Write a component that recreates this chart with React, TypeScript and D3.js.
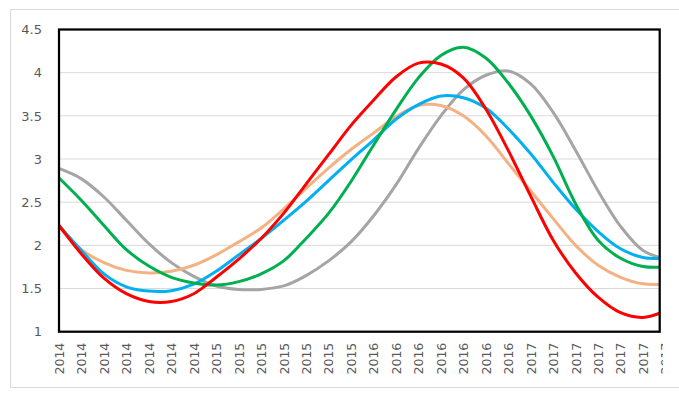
import React, { useRef, useEffect } from 'react';
import * as d3 from 'd3';

// category labels (28 points along the x axis)
const categories = [
  '2014', '2014', '2014', '2014', '2014', '2014', '2014',
  '2015', '2015', '2015', '2015', '2015', '2015', '2015',
  '2016', '2016', '2016', '2016', '2016', '2016', '2016',
  '2017', '2017', '2017', '2017', '2017', '2017', '2017',
];

const redValues = [2.23, 1.90, 1.62, 1.44, 1.35, 1.35, 1.44, 1.63, 1.84, 2.08, 2.37, 2.71, 3.05, 3.39, 3.68, 3.95, 4.11, 4.10, 3.94, 3.58, 3.10, 2.57, 2.06, 1.68, 1.40, 1.22, 1.165, 1.24];
const blueValues = [2.23, 1.94, 1.67, 1.52, 1.47, 1.475, 1.55, 1.70, 1.89, 2.08, 2.29, 2.51, 2.75, 2.99, 3.22, 3.46, 3.63, 3.73, 3.71, 3.59, 3.35, 3.06, 2.73, 2.42, 2.16, 1.96, 1.86, 1.85];
const greenValues = [2.78, 2.52, 2.23, 1.95, 1.76, 1.63, 1.565, 1.54, 1.58, 1.67, 1.82, 2.08, 2.37, 2.74, 3.16, 3.57, 3.94, 4.20, 4.295, 4.17, 3.88, 3.50, 3.03, 2.48, 2.06, 1.85, 1.755, 1.75];
const greyValues = [2.89, 2.77, 2.56, 2.29, 2.02, 1.80, 1.64, 1.53, 1.49, 1.49, 1.53, 1.65, 1.82, 2.04, 2.34, 2.70, 3.12, 3.50, 3.80, 3.97, 4.02, 3.87, 3.54, 3.10, 2.63, 2.22, 1.94, 1.84];
const peachValues = [2.22, 1.95, 1.80, 1.71, 1.68, 1.70, 1.77, 1.89, 2.04, 2.20, 2.42, 2.66, 2.895, 3.11, 3.30, 3.49, 3.62, 3.62, 3.50, 3.27, 2.95, 2.63, 2.31, 2.00, 1.77, 1.63, 1.555, 1.55];

const yTicks = [1, 1.5, 2, 2.5, 3, 3.5, 4, 4.5];

const series = [
  { values: greyValues, color: '#A5A5A5' },
  { values: peachValues, color: '#F4B183' },
  { values: blueValues, color: '#00B0F0' },
  { values: greenValues, color: '#00B050' },
  { values: redValues, color: '#FF0000' },
];

const App = () => {
  const chartRef = useRef<SVGSVGElement>(null);

  useEffect(() => {
    const width = 679;
    const height = 393;
    const left = 59;
    const right = 659.7;
    const top = 29.5;
    const bottom = 331.7;

    const svg = d3.select(chartRef.current);
    svg.selectAll('*').remove();

    svg.append('rect')
      .attr('width', width)
      .attr('height', height)
      .attr('fill', '#ffffff');

    // outer chart frame
    svg.append('rect')
      .attr('x', 10.5)
      .attr('y', 9.5)
      .attr('width', 690)
      .attr('height', 378)
      .attr('fill', '#ffffff')
      .attr('stroke', '#D9D9D9')
      .attr('stroke-width', 1);

    const idx = categories.map((_, i) => i);
    const xScale = d3.scalePoint<number>()
      .domain(idx)
      .range([left, 665.5]);

    const yScale = d3.scaleLinear()
      .domain([1, 4.5])
      .range([bottom, top]);

    const defs = svg.append('defs');
    defs.append('clipPath').attr('id', 'plot-clip')
      .append('rect')
      .attr('x', left).attr('y', 0)
      .attr('width', right - left).attr('height', height);
    defs.append('clipPath').attr('id', 'label-clip')
      .append('rect')
      .attr('x', 0).attr('y', 0)
      .attr('width', 663).attr('height', height);

    // gridlines
    svg.append('g')
      .selectAll('line')
      .data(yTicks)
      .enter()
      .append('line')
      .attr('x1', left)
      .attr('x2', right)
      .attr('y1', d => yScale(d))
      .attr('y2', d => yScale(d))
      .attr('stroke', '#D9D9D9')
      .attr('stroke-width', 1);

    // y axis labels
    const yAxis = d3.axisLeft(yScale).tickValues(yTicks).tickSize(0).tickPadding(17).tickFormat(d => String(d));
    const yg = svg.append('g')
      .attr('transform', `translate(${left}, 0)`)
      .call(yAxis);
    yg.select('.domain').remove();
    yg.selectAll('text')
      .style('font-family', '"DejaVu Sans", sans-serif')
      .style('font-size', '13px')
      .attr('fill', '#595959');

    // x axis labels
    const xAxis = d3.axisBottom(xScale).tickSize(0).tickFormat(i => categories[i as number]);
    const xg = svg.append('g')
      .attr('clip-path', 'url(#label-clip)')
      .append('g')
      .attr('transform', `translate(0, ${bottom})`)
      .call(xAxis);
    xg.select('.domain').remove();
    xg.selectAll('text')
      .attr('transform', 'rotate(-90)')
      .attr('text-anchor', 'end')
      .attr('x', -11)
      .attr('y', 0)
      .attr('dy', '0.35em')
      .style('font-family', '"DejaVu Sans", sans-serif')
      .style('font-size', '12.5px')
      .attr('fill', '#595959');

    // series lines
    const line = d3.line<number>()
      .x((_, i) => xScale(i) as number)
      .y(d => yScale(d))
      .curve(d3.curveCatmullRom.alpha(0.5));

    svg.append('g')
      .attr('clip-path', 'url(#plot-clip)')
      .selectAll('path')
      .data(series)
      .enter()
      .append('path')
      .attr('d', d => line(d.values))
      .attr('fill', 'none')
      .attr('stroke', d => d.color)
      .attr('stroke-width', 3)
      .attr('stroke-linejoin', 'round')
      .attr('stroke-linecap', 'round');

    // plot area border
    svg.append('rect')
      .attr('x', left)
      .attr('y', top)
      .attr('width', right - left)
      .attr('height', bottom - top)
      .attr('fill', 'none')
      .attr('stroke', '#000000')
      .attr('stroke-width', 2.25);
  }, []);

  return (
    <svg ref={chartRef} width={679} height={393} style={{ position: 'absolute', left: 0, top: 0 }}></svg>
  );
};

export default App;
